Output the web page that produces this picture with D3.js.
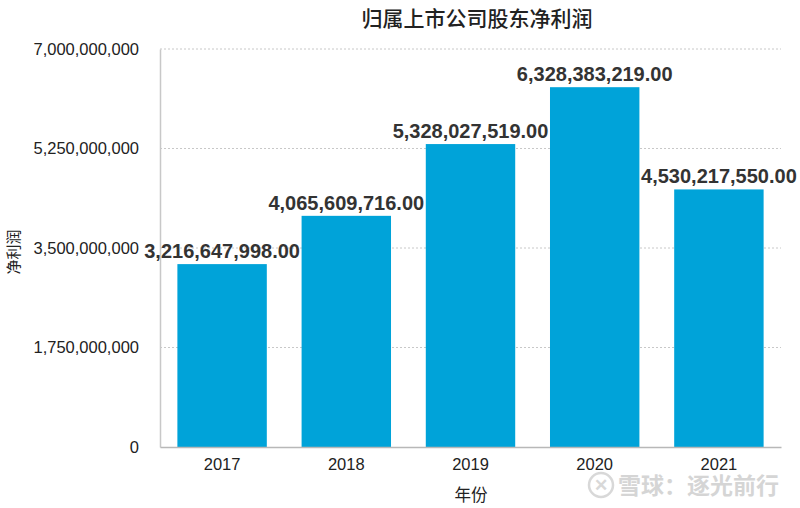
<!DOCTYPE html>
<html><head><meta charset="utf-8">
<script src="https://cdn.jsdelivr.net/npm/d3@7"></script>
<style>body{margin:0;background:#fff}svg{display:block}</style>
</head><body>
<svg id="c" width="800" height="508"></svg>
<script>
const years = ["2017","2018","2019","2020","2021"];
const profits = [3216647998.00, 4065609716.00, 5328027519.00, 6328383219.00, 4530217550.00];
const yTicks = [0, 1750000000, 3500000000, 5250000000, 7000000000];
const title = "归属上市公司股东净利润";
const xTitle = "年份";
const yTitle = "净利润";

const svg = d3.select("#c");
const L = 160, R = 781, T = 49, B = 447;
const font = "'Liberation Sans', Arial, 'Noto Sans CJK SC', sans-serif";
const cjk = "'Noto Sans CJK SC', sans-serif";

const x = d3.scaleBand().domain(years).range([L, R]).paddingInner(0.28).paddingOuter(0.14);
const y = d3.scaleLinear().domain([0, 7000000000]).range([B, T]);
const fmt = d3.format(",");
const fmt2 = d3.format(",.2f");

// gridlines
svg.append("g").selectAll("line").data(yTicks.filter(d => d > 0)).join("line")
  .attr("x1", L).attr("x2", R).attr("y1", d => y(d)).attr("y2", d => y(d))
  .attr("stroke", "#c8c8c8").attr("stroke-dasharray", "2,2").attr("stroke-width", 1);

// bars
svg.append("g").selectAll("rect").data(years).join("rect")
  .attr("x", d => x(d)).attr("width", x.bandwidth())
  .attr("y", (d, i) => y(profits[i])).attr("height", (d, i) => B - y(profits[i]))
  .attr("fill", "#00a3d9");

// axes
const ya = d3.axisLeft(y).tickValues(yTicks).tickFormat(fmt).tickSize(0).tickPadding(21);
const yg = svg.append("g").attr("transform", `translate(${L},0)`).call(ya);
yg.select(".domain").attr("stroke", "#c8c8c8").attr("stroke-width", 1.5);
yg.selectAll("text").attr("font-family", font).attr("font-size", 16.5).attr("fill", "#222");

const xa = d3.axisBottom(x).tickSize(0).tickPadding(11);
const xg = svg.append("g").attr("transform", `translate(0,${B})`).call(xa);
xg.select(".domain").attr("stroke", "#b8b8b8").attr("stroke-width", 1.5);
xg.selectAll("text").attr("font-family", font).attr("font-size", 16.5).attr("fill", "#222");

// value labels
svg.append("g").selectAll("text").data(years).join("text")
  .attr("x", d => x(d) + x.bandwidth() / 2)
  .attr("y", (d, i) => y(profits[i]) - 6)
  .attr("text-anchor", "middle")
  .attr("font-family", font).attr("font-size", 20).attr("font-weight", "bold")
  .attr("fill", "#333")
  .text((d, i) => fmt2(profits[i]));

// titles
svg.append("text").attr("x", 477).attr("y", 26).attr("text-anchor", "middle")
  .attr("font-family", cjk).attr("font-size", 21).attr("font-weight", "500").attr("fill", "#222").text(title);
svg.append("text").attr("x", 471).attr("y", 501).attr("text-anchor", "middle")
  .attr("font-family", cjk).attr("font-size", 16.5).attr("fill", "#222").text(xTitle);
svg.append("text").attr("transform", "translate(19,252) rotate(-90)").attr("text-anchor", "middle")
  .attr("font-family", cjk).attr("font-size", 15).attr("fill", "#222").text(yTitle);

// watermark
const wm = svg.append("g").attr("opacity", 0.75);
wm.append("circle").attr("cx", 601).attr("cy", 485).attr("r", 12).attr("fill", "none").attr("stroke", "#ccc").attr("stroke-width", 2.5);
wm.append("text").attr("x", 601).attr("y", 491).attr("text-anchor", "middle").attr("font-family", font)
  .attr("font-size", 17).attr("font-weight", "bold").attr("fill", "#ccc").text("✕");
wm.append("text").attr("x", 618).attr("y", 494).attr("font-family", cjk).attr("font-size", 23)
  .attr("fill", "#c8c8c8").attr("font-weight", "bold").text("雪球：逐光前行");
</script>
</body></html>
